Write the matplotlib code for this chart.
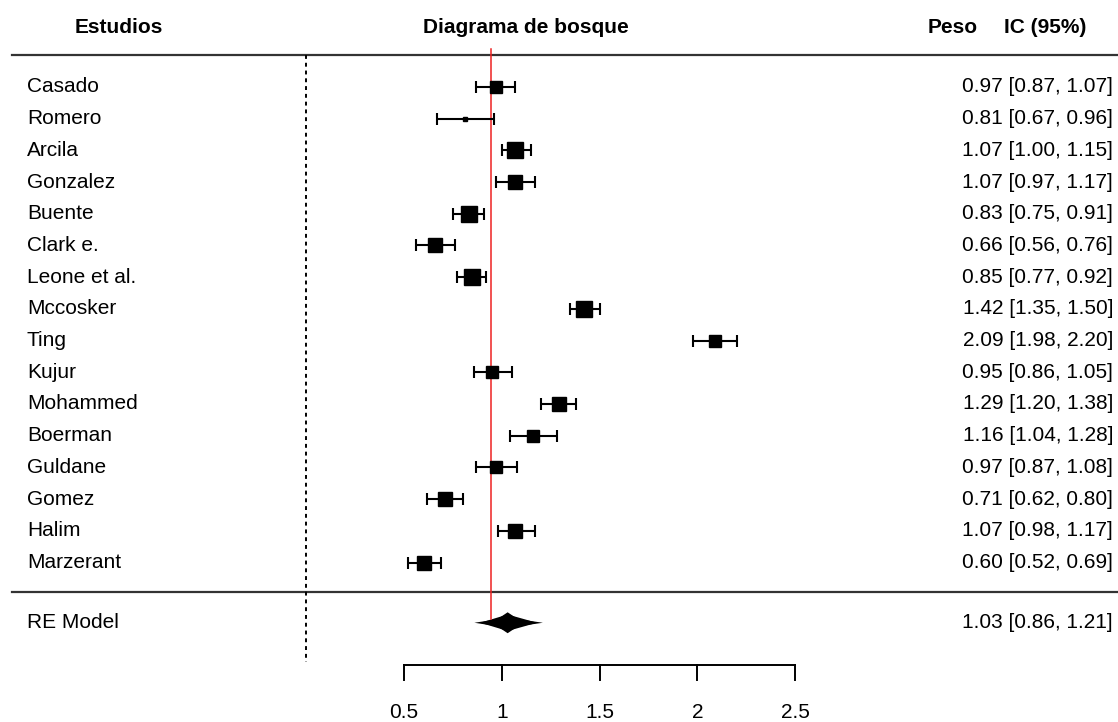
import matplotlib
matplotlib.use('Agg')
from matplotlib import pyplot as plt
import numpy as np

plt.rcParams['font.family'] = ['Liberation Sans', 'DejaVu Sans']

estudios = ['Casado', 'Romero', 'Arcila', 'Gonzalez', 'Buente', 'Clark e.',
            'Leone et al.', 'Mccosker', 'Ting', 'Kujur', 'Mohammed', 'Boerman',
            'Guldane', 'Gomez', 'Halim', 'Marzerant']
est = [0.97, 0.81, 1.07, 1.07, 0.83, 0.66, 0.85, 1.42, 2.09, 0.95, 1.29, 1.16,
       0.97, 0.71, 1.07, 0.60]
ci_lo = [0.87, 0.67, 1.00, 0.97, 0.75, 0.56, 0.77, 1.35, 1.98, 0.86, 1.20, 1.04,
         0.87, 0.62, 0.98, 0.52]
ci_hi = [1.07, 0.96, 1.15, 1.17, 0.91, 0.76, 0.92, 1.50, 2.20, 1.05, 1.38, 1.28,
         1.08, 0.80, 1.17, 0.69]
peso = [6.3, 2.5, 8.9, 7.6, 8.9, 8.3, 8.9, 8.9, 6.3, 7.0, 8.3, 6.3, 7.0, 8.3, 7.6, 7.6]

re_est, re_lo, re_hi = 1.03, 0.86, 1.21
ref_x = 0.945
ticks = [0.5, 1, 1.5, 2, 2.5]

fig = plt.figure(figsize=(11.18, 7.22), dpi=100)
ax = fig.add_axes([0, 0, 1, 1])
ax.set_xlim(-1.565, 4.15)
ax.set_ylim(-4.03, 18.74)
ax.axis('off')

k = len(estudios)
rows = np.arange(k, 0, -1)
fs = 15

# lines
ax.plot([-1.504, 4.15], [17, 17], color='#333333', lw=1.6)
ax.plot([-1.504, 4.15], [0.08, 0.08], color='#333333', lw=1.6)
ax.plot([0, 0], [17, -2.15], color='black', lw=1.4, ls=(0, (2, 2)))
ax.plot([ref_x, ref_x], [17.2, -0.78], color='#ee2222', lw=1.1)

for i in range(k):
    y = rows[i]
    ax.errorbar(est[i], y, xerr=[[est[i] - ci_lo[i]], [ci_hi[i] - est[i]]],
                fmt='none', ecolor='black', elinewidth=1.5, capsize=4.5, capthick=1.5)
    side = 11.5 * peso[i] / max(peso)
    ax.plot(est[i], y, marker='s', color='black', markersize=side, ls='none')
    ax.text(-1.427, y, estudios[i], ha='left', va='center', fontsize=fs)
    ax.text(4.125, y, f'{est[i]:.2f} [{ci_lo[i]:.2f}, {ci_hi[i]:.2f}]',
            ha='right', va='center', fontsize=fs)

# RE model diamond
yre = -0.9
ax.fill([re_lo, re_est, re_hi, re_est], [yre, yre + 0.16, yre, yre - 0.16],
        color='black', lw=0)
ax.fill([0.89, re_est, 1.18, re_est], [yre, yre + 0.26, yre, yre - 0.26],
        color='black', lw=0)
ax.fill([0.95, re_est, 1.11, re_est], [yre, yre + 0.33, yre, yre - 0.33],
        color='black', lw=0)
ax.text(-1.427, yre, 'RE Model', ha='left', va='center', fontsize=fs)
ax.text(4.125, yre, f'{re_est:.2f} [{re_lo:.2f}, {re_hi:.2f}]',
        ha='right', va='center', fontsize=fs)

# x axis
yax = -2.22
ax.plot([ticks[0], ticks[-1]], [yax, yax], color='black', lw=1.4)
for t in ticks:
    ax.plot([t, t], [yax, yax - 0.47], color='black', lw=1.4)
    ax.text(t, -3.72, f'{t:g}', ha='center', va='center', fontsize=fs)

# headers
yh = 17.86
ax.text(-0.96, yh, 'Estudios', ha='center', va='center', fontsize=fs, fontweight='bold')
ax.text(1.124, yh, 'Diagrama de bosque', ha='center', va='center', fontsize=fs, fontweight='bold')
ax.text(3.179, yh, 'Peso', ha='left', va='center', fontsize=fs, fontweight='bold')
ax.text(3.987, yh, 'IC (95%)', ha='right', va='center', fontsize=fs, fontweight='bold')

fig.savefig('out.png', dpi=100)
